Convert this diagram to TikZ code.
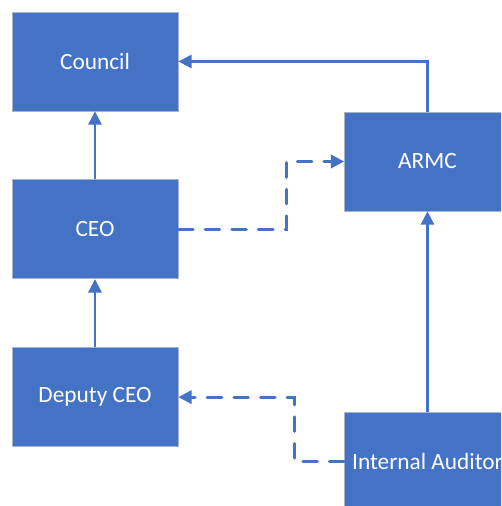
\documentclass[tikz,border=0pt]{standalone}
\usepackage{fontspec}
\setmainfont{Carlito}
\usepackage{xcolor}
\usepackage{tikz}
\usetikzlibrary{
  arrows.meta,
  positioning
}
\definecolor{ofBlue}{HTML}{4472C4}
\definecolor{ofEdge}{HTML}{A9B4CC}
\tikzset{
  orgbox/.style={
    draw=ofEdge, line width=0.6pt, fill=ofBlue, text=white,
    minimum width=124.5pt, minimum height=74.25pt, inner sep=0pt,
    font=\fontsize{17.5}{20}\selectfont, align=center
  },
  flow/.style={-{Triangle[length=10pt, width=10pt]}, line width=1.6pt, ofBlue},
  dflow/.style={flow, line width=2.2pt, dash pattern=on 11pt off 9pt, line cap=round}
}

\begin{document}
\begin{tikzpicture}[x=0.75pt, y=-0.75pt, node distance=51pt]
  \clip (0,0) rectangle (501,506);
  \fill[white] (0,0) rectangle (501,506);
  \node[orgbox] (council) at (95,61.5) {Council};
  \node[orgbox, below=of council] (ceo) {CEO};
  \node[orgbox, below=of ceo] (deputy) {Deputy CEO};
  \node[orgbox] (armc) at (427.5,161.5) {ARMC};
  \node[orgbox] (auditor) at (427.5,461.5) {Internal Auditor};
  % solid reporting lines
  \foreach \s/\e in {ceo/council, deputy/ceo, auditor/armc}{\draw[flow] (\s) -- (\e);}
  \draw[flow] (armc.north) |- (council.east);
  % dashed lines
  \draw[dflow] (ceo.east) -- ++(108,0) |- (armc.west);
  \draw[dflow] (auditor.west) -- ++(-50,0) |- (deputy.east);
\end{tikzpicture}
\end{document}
